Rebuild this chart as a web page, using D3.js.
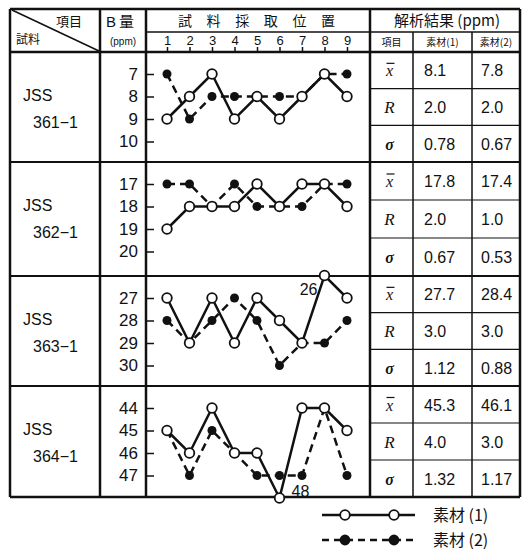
<!DOCTYPE html>
<html>
<head>
<meta charset="utf-8">
<script src="https://cdn.jsdelivr.net/npm/d3@7"></script>
<style>
  body { margin: 0; background: #fff; }
  text { font-family: "Liberation Sans", Arial, sans-serif; fill: #111; }
  .jp { font-family: "Noto Sans CJK JP", sans-serif; }
  .sym { font-family: "Liberation Serif", serif; font-style: italic; }
</style>
</head>
<body>
<div id="chart"></div>
<script>
// sampling positions along the bar
const positions = [1, 2, 3, 4, 5, 6, 7, 8, 9];
const sampleNames = ["361\u22121", "362\u22121", "363\u22121", "364\u22121"];
const yTicks = [
  [7, 8, 9, 10],
  [17, 18, 19, 20],
  [27, 28, 29, 30],
  [44, 45, 46, 47],
];
// B content (ppm), material (1) open circles, material (2) filled dots
const material1 = [
  [9, 8, 7, 9, 8, 9, 8, 7, 8],
  [19, 18, 18, 18, 17, 18, 17, 17, 18],
  [27, 29, 27, 29, 27, 28, 29, 26, 27],
  [45, 46, 44, 46, 46, 48, 44, 44, 45],
];
const material2 = [
  [7, 9, 8, 8, 8, 8, 8, 7, 7],
  [17, 17, 18, 17, 18, 18, 18, 17, 17],
  [28, 29, 28, 27, 28, 30, 29, 29, 28],
  [45, 47, 45, 46, 47, 47, 47, 44, 47],
];
// analysis results table
const statNames = ["x", "R", "\u03c3"];
const stats1 = [
  ["8.1", "2.0", "0.78"],
  ["17.8", "2.0", "0.67"],
  ["27.7", "3.0", "1.12"],
  ["45.3", "4.0", "1.32"],
];
const stats2 = [
  ["7.8", "2.0", "0.67"],
  ["17.4", "1.0", "0.53"],
  ["28.4", "3.0", "0.88"],
  ["46.1", "3.0", "1.17"],
];
const posTitle = ["試", "料", "採", "取", "位", "置"];
const legendNames = ["素材 (1)", "素材 (2)"];

const width = 528, height = 552;
const svg = d3.select("#chart").append("svg")
  .attr("width", width).attr("height", height);

// table frame
const cx = { left: 10, sample: 100, amount: 146, chart: 370, item: 413, m1: 472, right: 520 };
const headTop = 9, headMid = 32, headBot = 52;
const panelTops = [52, 162, 276, 386];
const tableBot = 497;
const panelBots = panelTops.slice(1).concat([tableBot]);

const x = d3.scaleLinear().domain([1, 9]).range([167, 347]);

const grid = svg.append("g").attr("stroke", "#111").attr("fill", "none");
function hline(x1, x2, y, w) {
  grid.append("line").attr("x1", x1).attr("x2", x2).attr("y1", y).attr("y2", y).attr("stroke-width", w);
}
function vline(xx, y1, y2, w) {
  grid.append("line").attr("x1", xx).attr("x2", xx).attr("y1", y1).attr("y2", y2).attr("stroke-width", w);
}

hline(cx.left, cx.right, headTop, 2.5);
hline(cx.amount, cx.right, headMid, 1.5);
hline(cx.left, cx.right, headBot, 2.5);
panelTops.slice(1).forEach(t => hline(cx.left, cx.right, t, 2));
hline(cx.left, cx.right, tableBot, 2.5);
vline(cx.left, headTop, tableBot, 2.5);
vline(cx.sample, headTop, tableBot, 2.5);
vline(cx.amount, headTop, tableBot, 2.5);
vline(cx.chart, headTop, tableBot, 2.5);
vline(cx.item, headMid, tableBot, 1.5);
vline(cx.m1, headMid, tableBot, 1.5);
vline(cx.right, headTop, tableBot, 2.5);
grid.append("line").attr("x1", cx.left + 2).attr("y1", headTop + 1)
  .attr("x2", cx.sample - 1).attr("y2", headBot - 1).attr("stroke-width", 1.5);

// header texts
svg.append("text").attr("class", "jp").attr("x", 82).attr("y", 26)
  .attr("text-anchor", "end").attr("font-size", 13).text("項目");
svg.append("text").attr("class", "jp").attr("x", 16).attr("y", 44)
  .attr("font-size", 12).text("試料");
svg.append("text").attr("x", 106).attr("y", 27).attr("font-size", 15).text("B");
svg.append("text").attr("class", "jp").attr("x", 119).attr("y", 27).attr("font-size", 15).text("量");
svg.append("text").attr("x", 123).attr("y", 45).attr("text-anchor", "middle")
  .attr("font-size", 10).text("(ppm)");

const posTitleX = d3.scalePoint().domain(posTitle).range([185, 328]);
svg.append("g").selectAll("text").data(posTitle).join("text")
  .attr("class", "jp").attr("x", d => posTitleX(d)).attr("y", 26)
  .attr("text-anchor", "middle").attr("font-size", 14).text(d => d);

svg.append("text").attr("class", "jp").attr("x", 447).attr("y", 26)
  .attr("text-anchor", "middle").attr("font-size", 15).text("解析結果 (ppm)");
svg.append("text").attr("class", "jp").attr("x", (cx.chart + cx.item) / 2).attr("y", 46)
  .attr("text-anchor", "middle").attr("font-size", 10).text("項目");
svg.append("text").attr("class", "jp").attr("x", (cx.item + cx.m1) / 2).attr("y", 46)
  .attr("text-anchor", "middle").attr("font-size", 10).text("素材(1)");
svg.append("text").attr("class", "jp").attr("x", (cx.m1 + cx.right) / 2).attr("y", 46)
  .attr("text-anchor", "middle").attr("font-size", 10).text("素材(2)");

// sampling-position axis in header
const xAxis = svg.append("g").attr("transform", `translate(0,${headBot})`)
  .call(d3.axisTop(x).tickValues(positions).tickSize(5).tickPadding(2).tickFormat(d3.format("d")));
xAxis.select(".domain").remove();
xAxis.selectAll("line").attr("stroke", "#111").attr("stroke-width", 1.5);
xAxis.selectAll("text").attr("font-size", 13).attr("fill", "#111")
  .style("font-family", "'Liberation Sans', Arial, sans-serif");

const line = d3.line().x((d, i) => x(positions[i])).y(d => d);

panelTops.forEach((top, p) => {
  const bot = panelBots[p];
  const t0 = yTicks[p][0];
  const y = d3.scaleLinear().domain([t0, t0 + 3]).range([top + 22, top + 89.5]);

  // sample labels
  svg.append("text").attr("x", 23).attr("y", top + 49).attr("font-size", 16).text("JSS");
  svg.append("text").attr("x", 33).attr("y", top + 76).attr("font-size", 16).text(sampleNames[p]);

  // y axis
  const ax = svg.append("g").attr("transform", `translate(${cx.amount},0)`)
    .call(d3.axisLeft(y).tickValues(yTicks[p]).tickSize(-8).tickPadding(8).tickFormat(d3.format("d")));
  ax.select(".domain").remove();
  ax.selectAll("line").attr("stroke", "#111").attr("stroke-width", 1.5);
  ax.selectAll("text").attr("font-size", 17).attr("fill", "#111")
    .style("font-family", "'Liberation Sans', Arial, sans-serif");

  const g = svg.append("g");
  const y2 = material2[p].map(v => y(v));
  const y1 = material1[p].map(v => y(v));
  g.append("path").attr("d", line(y2)).attr("fill", "none").attr("stroke", "#111")
    .attr("stroke-width", 2.5).attr("stroke-dasharray", "8,5");
  g.append("path").attr("d", line(y1)).attr("fill", "none").attr("stroke", "#111")
    .attr("stroke-width", 2.5);
  g.selectAll(".dot2").data(material2[p]).join("circle").attr("class", "dot2")
    .attr("cx", (d, i) => x(positions[i])).attr("cy", d => y(d)).attr("r", 4.5).attr("fill", "#111");
  g.selectAll(".dot1").data(material1[p]).join("circle").attr("class", "dot1")
    .attr("cx", (d, i) => x(positions[i])).attr("cy", d => y(d)).attr("r", 4.8)
    .attr("fill", "#fff").attr("stroke", "#111").attr("stroke-width", 1.8);

  // out-of-scale values get a label
  [material1[p], material2[p]].forEach(series => {
    series.forEach((v, i) => {
      if (v < t0) {
        svg.append("text").attr("x", x(positions[i]) - 7).attr("y", y(v) + 19)
          .attr("text-anchor", "end").attr("font-size", 16).text(v);
      } else if (v > t0 + 3) {
        svg.append("text").attr("x", x(positions[i]) + 12).attr("y", y(v) - 1)
          .attr("font-size", 16).text(v);
      }
    });
  });

  // results table
  const rowH = (bot - top) / 3;
  const symX = (cx.chart + cx.item) / 2 - 2;
  statNames.forEach((s, r) => {
    const rt = top + rowH * r;
    if (r > 0) hline(cx.chart, cx.right, rt, 1.2);
    const base = rt + rowH / 2 + 6;
    svg.append("text").attr("class", "sym").attr("x", symX).attr("y", base)
      .attr("text-anchor", "middle").attr("font-size", r === 1 ? 17 : 16)
      .attr("font-weight", r === 2 ? "bold" : "normal").text(s);
    if (r === 0) {
      // bar over the mean symbol
      grid.append("line").attr("x1", symX - 3).attr("x2", symX + 5)
        .attr("y1", base - 13).attr("y2", base - 13).attr("stroke-width", 1.2);
    }
    svg.append("text").attr("x", 424).attr("y", base).attr("font-size", 16).text(stats1[p][r]);
    svg.append("text").attr("x", 481).attr("y", base).attr("font-size", 16).text(stats2[p][r]);
  });
});

// legend
const lg = svg.append("g");
[515, 540].forEach((ly, k) => {
  lg.append("line").attr("x1", 322).attr("x2", 415).attr("y1", ly).attr("y2", ly)
    .attr("stroke", "#111").attr("stroke-width", 2.5)
    .attr("stroke-dasharray", k === 1 ? "7,5" : null);
  [345, 394].forEach(mx => {
    lg.append("circle").attr("cx", mx).attr("cy", ly).attr("r", k === 0 ? 4.8 : 4.5)
      .attr("fill", k === 0 ? "#fff" : "#111").attr("stroke", "#111").attr("stroke-width", 1.8);
  });
  lg.append("text").attr("class", "jp").attr("x", 433).attr("y", ly + 6)
    .attr("font-size", 16).text(legendNames[k]);
});
</script>
</body>
</html>
